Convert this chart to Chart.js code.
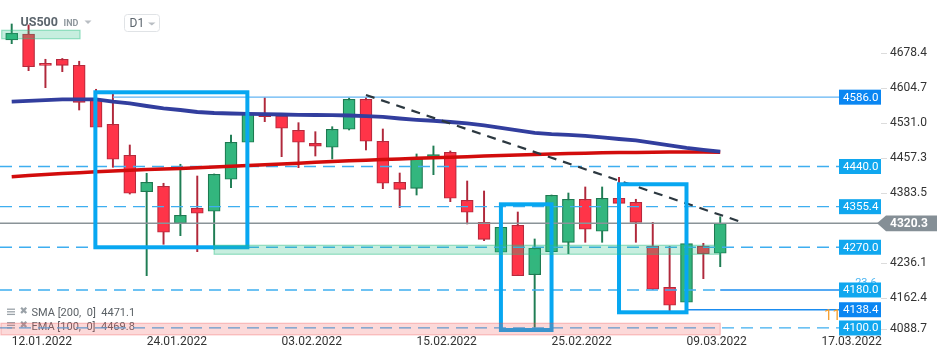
<!DOCTYPE html>
<html>
<head>
<meta charset="utf-8">
<script src="https://cdn.jsdelivr.net/npm/chart.js@4.4.1/dist/chart.umd.min.js"></script>
<style>
html,body{margin:0;padding:0;background:#fff;}
#wrap{width:950px;height:360px;}
</style>
</head>
<body>
<div id="wrap"><canvas id="c" width="950" height="360"></canvas></div>
<script>
// ---------- data ----------
const dateLabels = ['12.01.2022','24.01.2022','03.02.2022','15.02.2022','25.02.2022','09.03.2022','17.03.2022'];
const dateIndex  = [0, 8, 16, 24, 32, 40, 48];

const open  = [4706.4,4719.0,4657.3,4665.8,4653.1,4580.1,4528.9,4463.6,4387.0,4398.3,4320.4,4352.0,4345.7,4413.1,4491.0,4550.6,4546.4,4516.3,4488.9,4480.5,4518.4,4581.5,4493.1,4406.8,4394.1,4456.5,4469.9,4368.9,4322.5,4259.4,4316.2,4212.2,4260.6,4280.4,4371.0,4303.6,4373.1,4364.7,4272.0,4185.7,4154.1,4272.0,4257.3];
const high  = [4740.1,4738.0,4665.8,4667.5,4661.6,4602.6,4593.3,4485.3,4425.7,4404.7,4444.7,4420.0,4424.3,4506.4,4556.9,4584.9,4548.5,4532.3,4513.3,4523.8,4584.3,4585.3,4519.0,4426.3,4466.4,4483.2,4472.7,4409.5,4388.4,4312.6,4344.2,4287.4,4380.0,4384.2,4396.9,4396.9,4417.3,4371.0,4322.5,4272.0,4277.9,4278.3,4334.3];
const low   = [4698.6,4641.8,4606.0,4639.7,4559.0,4521.0,4438.3,4382.0,4210.1,4276.2,4294.3,4260.6,4265.7,4395.4,4489.5,4534.4,4460.7,4437.5,4462.1,4455.8,4516.9,4474.8,4393.3,4353.3,4380.0,4422.8,4365.9,4319.0,4283.8,4259.0,4210.1,4099.3,4260.0,4256.4,4280.4,4280.4,4362.1,4280.4,4181.0,4135.1,4153.7,4203.8,4229.0];
const close = [4720.5,4650.2,4653.1,4653.1,4575.2,4522.6,4455.2,4383.6,4406.8,4301.5,4337.3,4341.5,4423.6,4491.0,4552.1,4544.9,4520.5,4491.0,4482.6,4518.4,4581.5,4493.1,4404.7,4392.0,4456.5,4464.9,4373.1,4343.6,4286.7,4312.0,4210.1,4267.8,4379.4,4371.0,4307.8,4373.1,4362.5,4322.5,4181.5,4147.8,4277.5,4256.4,4320.3];

const sma200 = [4576.5,4578.0,4579.6,4581.3,4581.5,4581.3,4576.5,4572.7,4567.4,4562.6,4559.0,4554.8,4552.7,4551.6,4551.0,4550.2,4549.5,4548.9,4548.5,4548.1,4547.4,4546.0,4544.3,4541.1,4538.4,4536.3,4533.7,4531.0,4526.4,4521.1,4516.3,4511.0,4508.0,4506.4,4504.3,4501.5,4497.9,4494.8,4489.5,4484.3,4479.0,4474.8,4471.1];
const ema100 = [4418.6,4421.1,4423.2,4425.3,4427.0,4428.9,4430.6,4432.0,4433.5,4434.8,4435.8,4437.3,4439.0,4440.5,4441.9,4443.6,4445.3,4447.0,4448.7,4450.4,4452.0,4453.3,4454.6,4455.8,4457.3,4458.4,4459.6,4460.7,4461.9,4463.0,4464.3,4465.3,4466.4,4467.2,4468.0,4468.7,4469.3,4469.7,4470.1,4470.4,4470.4,4470.4,4469.8];

const yTicks = [4678.4, 4604.7, 4531.0, 4457.3, 4383.5, 4236.1, 4162.4, 4088.7];

// horizontal levels
const levels         = [4586.0, 4440.0, 4355.4, 4270.0, 4180.0, 4138.4, 4100.0];
const levelSolidFrom = [6.0,    null,   null,   null,   42.0,   40.03,  null];
const levelDashed    = [false,  true,   true,   true,   true,   false,  true];

// trend line (index, price)
const trendX = [21.0, 43.07];
const trendY = [4590.6, 4325.3];

// blue frames (index / price)
const boxFrom   = [4.96, 29.0, 36.0];
const boxTo     = [13.97, 32.0, 40.0];
const boxTop    = [4596.3, 4360.4, 4402.6];
const boxBottom = [4269.9, 4095.7, 4133.0];

// translucent zones (index / price)
const zoneFrom   = [-0.59, 12.0, -0.64];
const zoneTo     = [4.05, 42.0, 42.0];
const zoneTop    = [4726.8, 4274.1, 4109.9];
const zoneBottom = [4709.1, 4255.2, 4085.5];
const zoneKind   = ['green', 'green', 'pink'];

// small annotation texts
const noteText  = ['23.6', '11'];
const noteX     = [50.0, 48.15];
const noteY     = [4194.7, 4125.5];

// ---------- chart ----------
const xMin = -0.6935, xMax = 51.53;
const yMin = 4085.2, yMax = 4790.6;

const idx = open.map((_, i) => i);
const up = idx.map(i => close[i] >= open[i]);

const lineDs = (pts, color, width, dash, order) => ({
  type: 'line', data: pts, borderColor: color, borderWidth: width, borderDash: dash || [],
  pointRadius: 0, fill: false, tension: 0, order: order
});

const datasets = [];
datasets.push({
  type: 'bar', data: idx.map(i => ({x: i, y: [low[i], high[i]]})),
  backgroundColor: idx.map(i => up[i] ? '#1f7d54' : '#b0283b'),
  borderWidth: 0, barThickness: 1.3, grouped: false, order: 30
});
datasets.push({
  type: 'bar', data: idx.map(i => ({x: i, y: [open[i], close[i]]})),
  backgroundColor: idx.map(i => up[i] ? '#33b67e' : '#ff3448'),
  borderColor: idx.map(i => up[i] ? '#1d7a51' : '#b7293c'),
  borderWidth: 1.2, borderSkipped: false, barThickness: 12, minBarLength: 2, grouped: false, order: 29
});
levels.forEach((L, k) => {
  const solidFrom = levelSolidFrom[k];
  if (levelDashed[k]) {
    const end = solidFrom == null ? xMax : solidFrom;
    datasets.push(lineDs([{x: xMin, y: L}, {x: end, y: L}], '#3eaef0', 1.3, [12, 7], 20));
  }
  if (solidFrom != null) {
    const col = k === 0 ? '#62b4f3' : '#1a8cf0';
    datasets.push(lineDs([{x: solidFrom, y: L}, {x: xMax, y: L}], col, k === 0 ? 1.3 : 1.6, [], 20));
  }
});
datasets.push(lineDs(idx.map(i => ({x: i, y: ema100[i]})), '#d20c0c', 3.5, [], 12));
datasets.push(lineDs(idx.map(i => ({x: i, y: sma200[i]})), '#323e9e', 3.8, [], 11));
datasets.push(lineDs([{x: xMin, y: close[close.length - 1]}, {x: xMax, y: close[close.length - 1]}], '#8a9398', 1.5, [], 10));
datasets.push(lineDs(trendX.map((x, k) => ({x: x, y: trendY[k]})), '#2c3840', 2.2, [9, 7], 9));

function tri(ctx, pts, color) {
  ctx.beginPath(); ctx.moveTo(pts[0], pts[1]); ctx.lineTo(pts[2], pts[3]); ctx.lineTo(pts[4], pts[5]);
  ctx.closePath(); ctx.fillStyle = color; ctx.fill();
}
function legendRow(ctx, y, text) {
  ctx.strokeStyle = '#9aa2a8'; ctx.lineWidth = 1.3;
  for (let k = -1; k <= 1; k++) { ctx.beginPath(); ctx.moveTo(7, y - 1.5 + k * 2.6); ctx.lineTo(15, y - 1.5 + k * 2.6); ctx.stroke(); }
  ctx.fillStyle = '#9aa2a8'; ctx.font = 'bold 10px "DejaVu Sans"'; ctx.textAlign = 'left';
  ctx.fillText('\u2716', 19.5, y - 1.5);
  ctx.fillStyle = '#5b6166'; ctx.font = '11px Roboto';
  ctx.fillText(text, 31.5, y);
}

const overlay = {
  id: 'overlay',
  beforeDatasetsDraw(chart) {
    const ctx = chart.ctx;
    ctx.save();
    ctx.textBaseline = 'middle'; ctx.textAlign = 'left';
    ctx.fillStyle = '#5c656d'; ctx.font = 'bold 12.5px Roboto';
    ctx.fillText('US500', 20.5, 23);
    ctx.fillStyle = '#8f979d'; ctx.font = 'bold 9px Roboto';
    ctx.fillText('IND', 63.5, 24);
    tri(ctx, [84.5, 20.5, 91.5, 20.5, 88, 24], '#b9bec3');
    ctx.strokeStyle = '#e0e3e6'; ctx.lineWidth = 1;
    ctx.beginPath(); ctx.roundRect(124.5, 14.5, 35, 17, 3); ctx.stroke();
    ctx.fillStyle = '#5c656d'; ctx.font = '12px Roboto';
    ctx.fillText('D1', 129.5, 23.5);
    tri(ctx, [148, 22.5, 155.5, 22.5, 151.8, 25.5], '#b9bec3');
    legendRow(ctx, 313.3, 'SMA [200,  0]  ' + sma200[sma200.length - 1].toFixed(1));
    legendRow(ctx, 326.8, 'EMA [100,  0]  ' + ema100[ema100.length - 1].toFixed(1));
    ctx.restore();
  },
  afterDatasetsDraw(chart) {
    const ctx = chart.ctx, xs = chart.scales.x, ys = chart.scales.y;
    const X = v => xs.getPixelForValue(v), Y = v => ys.getPixelForValue(v);
    const area = chart.chartArea;
    ctx.save();
    // blue frames
    ctx.strokeStyle = '#07a7f1'; ctx.lineWidth = 4;
    boxFrom.forEach((b, k) => {
      ctx.strokeRect(X(b), Y(boxTop[k]), X(boxTo[k]) - X(b), Y(boxBottom[k]) - Y(boxTop[k]));
    });
    // translucent zones
    zoneFrom.forEach((z, k) => {
      const x0 = X(z), x1 = X(zoneTo[k]), y0 = Y(zoneTop[k]), y1 = Y(zoneBottom[k]);
      if (zoneKind[k] === 'green') { ctx.fillStyle = 'rgba(40,190,130,0.26)'; ctx.strokeStyle = 'rgba(40,190,130,0.45)'; }
      else { ctx.fillStyle = 'rgba(240,80,80,0.22)'; ctx.strokeStyle = 'rgba(240,80,80,0.32)'; }
      ctx.fillRect(x0, y0, x1 - x0, y1 - y0);
      ctx.lineWidth = 1.2; ctx.strokeRect(x0, y0, x1 - x0, y1 - y0);
    });
    // notes
    ctx.textBaseline = 'middle'; ctx.textAlign = 'left';
    ctx.fillStyle = '#4db6f2'; ctx.font = '11px Roboto';
    ctx.fillText(noteText[0], X(noteX[0]), Y(noteY[0]));
    ctx.fillStyle = '#f5a134'; ctx.font = '15px Roboto';
    ctx.fillText(noteText[1], X(noteX[1]), Y(noteY[1]));
    // level tags
    levels.forEach((L, k) => {
      const y = Y(L), x0 = area.right - 42;
      ctx.fillStyle = levelDashed[k] ? '#10a7ef' : '#0a86f2';
      ctx.fillRect(x0, y - 7.5, 42, 15);
      ctx.fillStyle = '#ffffff'; ctx.font = '11.5px Roboto';
      ctx.fillText(L.toFixed(1), x0 + 4, y + 0.5);
    });
    ctx.restore();
  },
  afterDraw(chart) {
    const ctx = chart.ctx, ys = chart.scales.y;
    const last = close[close.length - 1];
    const y = ys.getPixelForValue(last);
    const x0 = chart.chartArea.right - 4;
    ctx.save();
    ctx.fillStyle = '#858f96';
    ctx.beginPath();
    ctx.moveTo(x0, y); ctx.lineTo(x0 + 9, y - 7.8); ctx.lineTo(937, y - 7.8);
    ctx.lineTo(937, y + 7.8); ctx.lineTo(x0 + 9, y + 7.8); ctx.closePath(); ctx.fill();
    ctx.fillStyle = '#ffffff'; ctx.font = 'bold 12px Roboto';
    ctx.textBaseline = 'middle'; ctx.textAlign = 'left';
    ctx.fillText(last.toFixed(1), 890, y + 0.5);
    ctx.restore();
  }
};

Chart.defaults.font.family = 'Roboto';

new Chart(document.getElementById('c'), {
  type: 'bar',
  data: { datasets: datasets },
  options: {
    responsive: false,
    animation: false,
    events: [],
    layout: { padding: 0, autoPadding: false },
    plugins: { legend: { display: false }, tooltip: { enabled: false } },
    scales: {
      x: {
        type: 'linear', min: xMin, max: xMax, offset: false,
        grid: { display: false, drawTicks: false, tickLength: 0, offset: false },
        border: { display: false },
        afterBuildTicks: s => { s.ticks = dateIndex.map(v => ({ value: v })); },
        afterFit: s => { s.height = 25; s.paddingLeft = 0; s.paddingRight = 0; },
        ticks: {
          align: 'start', maxRotation: 0, minRotation: 0, autoSkip: false, padding: 0,
          color: '#333', font: { family: 'Roboto', size: 12 },
          callback: v => { const k = dateIndex.indexOf(v); return k >= 0 ? dateLabels[k] : ''; }
        }
      },
      y: {
        type: 'linear', position: 'right', min: yMin, max: yMax,
        grid: { display: true, drawOnChartArea: false, drawTicks: true, tickLength: 6, color: '#dcdcdc' },
        border: { display: false },
        afterBuildTicks: s => { s.ticks = yTicks.map(v => ({ value: v })); },
        afterFit: s => {
          s.width = 69; s.paddingTop = 0; s.paddingBottom = 0;
          if (!s._clampPatched) {
            const base = s.getPixelForTick.bind(s);
            s.getPixelForTick = i => Math.min(base(i), s.bottom - 6);
            s._clampPatched = true;
          }
        },
        ticks: {
          padding: 3, color: '#333', font: { family: 'Roboto', size: 12 },
          callback: v => v.toFixed(1)
        }
      }
    }
  },
  plugins: [overlay]
});
</script>
</body>
</html>
